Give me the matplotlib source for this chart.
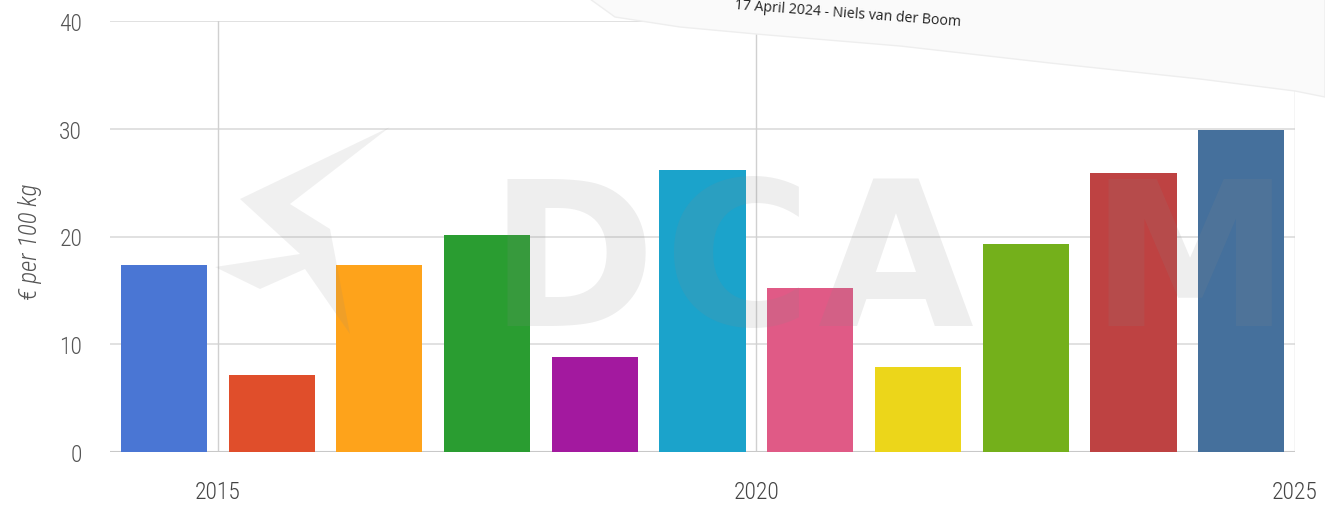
import matplotlib
matplotlib.use("Agg")
import matplotlib.pyplot as plt
from matplotlib.patches import Polygon
from matplotlib import font_manager

years = [2014, 2015, 2016, 2017, 2018, 2019, 2020, 2021, 2022, 2023, 2024]
values = [17.4, 7.1, 17.4, 20.1, 8.8, 26.2, 15.2, 7.9, 19.3, 25.9, 29.9]
colors = ["#4a76d4", "#e04e2b", "#fea31b", "#2a9d31", "#a3199f", "#1ba3cb",
          "#e05a86", "#ecd61a", "#74b01b", "#be4242", "#45709c"]
xticks = [2015, 2020, 2025]
yticks = [0, 10, 20, 30, 40]
ylabel = "€ per 100 kg"
note = "17 April 2024 - Niels van der Boom"

names = {f.name for f in font_manager.fontManager.ttflist}
fam = "Roboto"
for cand in ["Roboto Condensed", "Liberation Sans Narrow", "Open Sans Condensed",
             "DejaVu Sans Condensed"]:
    if cand in names:
        fam = cand
        break

W, H = 1325, 506
fig = plt.figure(figsize=(W / 100, H / 100), dpi=100)
ax = fig.add_axes([110 / W, (H - 453) / H, (1295 - 110) / W, (453 - 22) / H])

ax.set_xlim(2014, 2025)
ax.set_ylim(0, 40)
for y in yticks:
    ax.axhline(y, color="#dcdcdc", lw=1.2, zorder=0)
for x in xticks:
    ax.axvline(x, color="#d0d0d0", lw=1, zorder=0)
ax.axhline(0, color="#c8c8c8", lw=1.5, zorder=0)

ax.bar([y + 0.5 for y in years], values, width=0.8, color=colors, zorder=2)

for s in ax.spines.values():
    s.set_visible(False)
ax.set_xticks(xticks)
ax.set_xticklabels([str(t) for t in xticks], fontfamily=fam, fontsize=17,
                   color="#444444", fontweight="light")
ax.set_yticks(yticks)
ax.set_yticklabels([str(t) for t in yticks], fontfamily=fam, fontsize=17,
                   color="#555555", fontweight="light")
ax.tick_params(length=0, pad=20)
ax.tick_params(axis="x", pad=20)
ax.set_ylabel(ylabel, fontfamily=fam, fontsize=18, color="#555555", style="italic",
              fontweight="light")
ax.yaxis.set_label_coords(-0.057, 0.49)

# watermark
wm = "#888888"
wmfam = "DejaVu Sans Condensed" if "DejaVu Sans Condensed" in names else "DejaVu Sans"
for ch, px in zip("DCAM", [572, 738, 895, 1190]):
    fig.text(px / W, 1 - 270 / H, ch, fontsize=145, color=wm, alpha=0.14,
             ha="center", va="center", fontfamily=wmfam,
             fontweight="bold", zorder=5)
logo = [(390, 128), (240, 200), (300, 255), (215, 268), (260, 290), (305, 270),
        (350, 335), (330, 230), (290, 205)]
fig.patches.append(Polygon([(x / W, 1 - y / H) for x, y in logo], closed=True,
                           transform=fig.transFigure, facecolor=wm, alpha=0.12,
                           edgecolor="none", zorder=5))

# paper overlay
paper = [(590, 0), (615, 18), (680, 28), (756, 35), (900, 47), (1050, 64),
         (1200, 80), (1295, 92), (1325, 98), (1325, 0)]
fig.patches.append(Polygon([(x / W, 1 - y / H) for x, y in paper], closed=True,
                           transform=fig.transFigure, facecolor="#fafafa",
                           edgecolor="#eeeeee", lw=1, zorder=6))
fig.text(848 / W, 1 - 14 / H, note, fontsize=10.2, color="#222222", rotation=-4.3,
         ha="center", va="center", fontfamily="Open Sans", zorder=7)

fig.savefig("out.png", dpi=100)
